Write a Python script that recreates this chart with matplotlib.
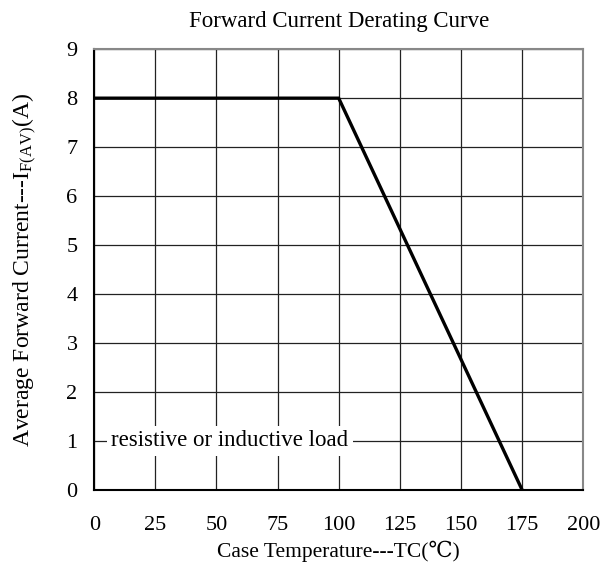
import matplotlib
matplotlib.use("Agg")
import matplotlib.pyplot as plt

# Derating curve data
temp = [0, 100, 175]
current = [8, 8, 0]
x_ticks = [0, 25, 50, 75, 100, 125, 150, 175, 200]
y_ticks = [0, 1, 2, 3, 4, 5, 6, 7, 8, 9]

plt.rcParams['font.family'] = ['Liberation Serif', 'DejaVu Serif', 'DejaVu Sans']
plt.rcParams['mathtext.fontset'] = 'custom'
plt.rcParams['mathtext.rm'] = 'Liberation Serif'

fig = plt.figure(figsize=(6.0, 5.79), dpi=100)
ax = fig.add_axes([0.157, 0.154, 0.815, 0.761])

ax.plot(temp, current, color='black', linewidth=2.4, solid_joinstyle='miter', zorder=3)

ax.set_xlim(0, 200)
ax.set_ylim(0, 9)
ax.set_xticks(x_ticks)
ax.set_yticks(y_ticks)
ax.grid(True, color='#222222', linewidth=0.9)
ax.tick_params(length=0, labelsize=16)
ax.tick_params(axis='x', pad=19)
ax.tick_params(axis='y', pad=12)

for side in ['left', 'bottom']:
    ax.spines[side].set_linewidth(1.5)
    ax.spines[side].set_color('black')
for side in ['top', 'right']:
    ax.spines[side].set_linewidth(1.5)
    ax.spines[side].set_color('#888888')

ax.text(7, 1, "resistive or inductive load", fontsize=16.5, va='center', ha='left',
        bbox=dict(facecolor='white', edgecolor='none', pad=3), zorder=4)

ax.set_title("Forward Current Derating Curve", fontsize=16.5, pad=16)
ax.set_xlabel("Case Temperature---TC(℃)", fontsize=15.5, labelpad=4)
ax.set_ylabel(r"Average Forward Current---I$\mathregular{_{F(AV)}}$(A)", fontsize=17, labelpad=20)

fig.savefig("out.png", dpi=100)
